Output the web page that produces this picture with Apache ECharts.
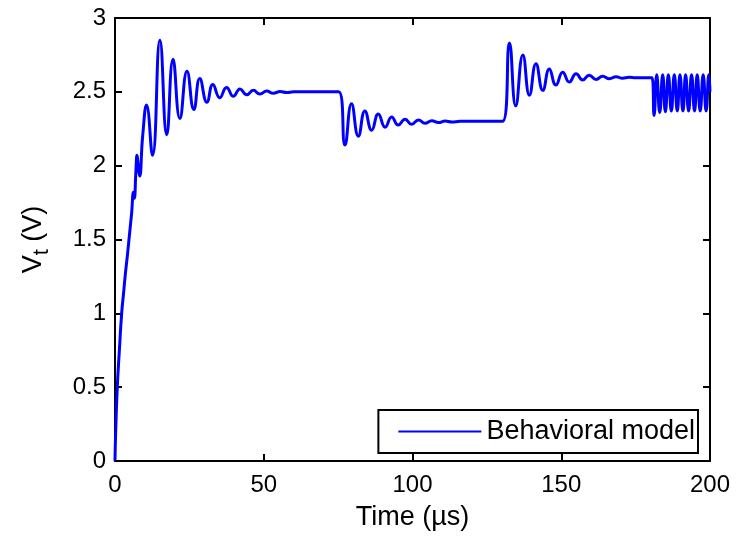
<!DOCTYPE html>
<html>
<head>
<meta charset="utf-8">
<script src="https://cdn.jsdelivr.net/npm/echarts@6/dist/echarts.min.js"></script>
<style>html,body{margin:0;padding:0;background:#fff;}#c{width:744px;height:536px;}</style>
</head>
<body>
<div id="c"></div>
<script>
// Time (µs) samples (peaks, troughs, corners)
var timeUs = [
  0, 0.2, 0.77, 1.5, 2.24, 2.9, 3.5, 4.1, 4.7, 5.3, 5.6, 6.2, 6.5, 7.0, 7.4, 7.9, 8.3, 9.3, 10.6, 12.6, 15.1,
  17.4, 19.5, 21.8, 24.2, 26.5, 28.5, 30.9, 32.9, 35.2, 37.5, 39.8, 42.0, 44.3, 46.5, 48.7, 51.0, 53.2, 55.5, 57.7, 60.0,
  75.2, 77.3, 79.5, 81.8, 84.0, 86.3, 88.5, 90.8, 93.0, 95.2, 97.5, 99.7, 102.0, 104.2, 106.5, 108.7, 111.0, 113.2, 116.0,
  130.3, 132.6, 134.7, 137.1, 139.3, 141.5, 143.8, 146.0, 148.2, 150.5, 152.7, 155.0, 157.2, 159.4, 161.7, 163.9, 166.2, 168.4, 170.6, 172.8, 175.0,
  180.5, 181.2, 182.1, 183.1, 184.1, 185.0, 186.0, 187.0, 188.0, 189.0, 189.9, 190.9, 191.8, 192.8, 193.8, 194.8, 195.7, 196.7, 197.7, 198.7, 199.6, 200.0
];
// Vt (V) values
var voltage = [
  0, 0.18, 0.5, 0.76, 1.0, 1.14, 1.27, 1.38, 1.5, 1.62, 1.68, 1.82, 1.78, 1.95, 2.07, 1.98, 1.93, 2.2, 2.41, 2.07, 2.85,
  2.21, 2.72, 2.32, 2.64, 2.38, 2.59, 2.43, 2.55, 2.46, 2.53, 2.47, 2.52, 2.48, 2.51, 2.485, 2.505, 2.49, 2.502, 2.495, 2.5,
  2.5, 2.14, 2.42, 2.20, 2.37, 2.24, 2.35, 2.26, 2.33, 2.275, 2.315, 2.28, 2.31, 2.287, 2.304, 2.292, 2.302, 2.296, 2.3,
  2.3, 2.83, 2.405, 2.75, 2.477, 2.69, 2.51, 2.655, 2.546, 2.633, 2.566, 2.622, 2.58, 2.613, 2.584, 2.606, 2.589, 2.602, 2.592, 2.598, 2.595,
  2.595, 2.34, 2.615, 2.36, 2.615, 2.365, 2.615, 2.37, 2.615, 2.37, 2.615, 2.37, 2.615, 2.37, 2.615, 2.37, 2.615, 2.37, 2.615, 2.37, 2.615, 2.5
];
var seriesName = 'Behavioral model';
var xTicks = [0, 50, 100, 150, 200];
var yTicks = [0, 0.5, 1, 1.5, 2, 2.5, 3];

var pts = timeUs.map(function (t, i) { return [t, voltage[i]]; });
var FONT = 'Liberation Sans';
var axisCommon = {
  axisLine: { show: true, onZero: false, lineStyle: { color: '#000', width: 2 } },
  axisTick: { show: true, inside: true, length: 7, lineStyle: { color: '#000', width: 2 } },
  splitLine: { show: false }
};
function mk(base, extra) { return Object.assign({}, JSON.parse(JSON.stringify(base)), extra); }

var chart = echarts.init(document.getElementById('c'), null, { renderer: 'canvas' });
chart.setOption({
  animation: false,
  backgroundColor: '#fff',
  grid: { left: 115, right: 34, top: 18, bottom: 71, containLabel: false },
  xAxis: [
    mk(axisCommon, {
      type: 'value', position: 'bottom', min: xTicks[0], max: xTicks[xTicks.length - 1], interval: 50,
      axisLabel: { color: '#000', fontFamily: FONT, fontSize: 24, margin: 12 },
      name: 'Time (µs)', nameLocation: 'middle', nameGap: 43,
      nameTextStyle: { color: '#000', fontFamily: FONT, fontSize: 27 }
    }),
    mk(axisCommon, {
      type: 'value', position: 'top', min: xTicks[0], max: xTicks[xTicks.length - 1], interval: 50,
      axisLabel: { show: false }
    })
  ],
  yAxis: [
    mk(axisCommon, {
      type: 'value', position: 'left', min: yTicks[0], max: yTicks[yTicks.length - 1], interval: 0.5,
      axisLabel: { color: '#000', fontFamily: FONT, fontSize: 24, margin: 9 },
      name: '{v|V}{s|t}{v| (V)}', nameLocation: 'middle', nameGap: 62, nameRotate: 90,
      nameTextStyle: {
        color: '#000', fontFamily: FONT, fontSize: 27,
        rich: {
          v: { color: '#000', fontFamily: FONT, fontSize: 27, verticalAlign: 'middle' },
          s: { color: '#000', fontFamily: FONT, fontSize: 22, verticalAlign: 'bottom', padding: [17, 0, 0, 0] }
        }
      }
    }),
    mk(axisCommon, {
      type: 'value', position: 'right', min: yTicks[0], max: yTicks[yTicks.length - 1], interval: 0.5,
      axisLabel: { show: false }
    })
  ],
  legend: {
    right: 46, top: 410, orient: 'horizontal',
    data: [seriesName],
    icon: 'rect', itemWidth: 83, itemHeight: 2, itemGap: 10,
    padding: [8, 3, 8, 20],
    borderColor: '#000', borderWidth: 2, backgroundColor: '#fff',
    textStyle: { color: '#000', fontFamily: FONT, fontSize: 27 }
  },
  series: [{
    name: seriesName, type: 'line', data: pts, xAxisIndex: 0, yAxisIndex: 0,
    showSymbol: false, smooth: 0.5,
    lineStyle: { color: '#0000ff', width: 3 },
    itemStyle: { color: '#0000ff' }
  }]
});
</script>
</body>
</html>
